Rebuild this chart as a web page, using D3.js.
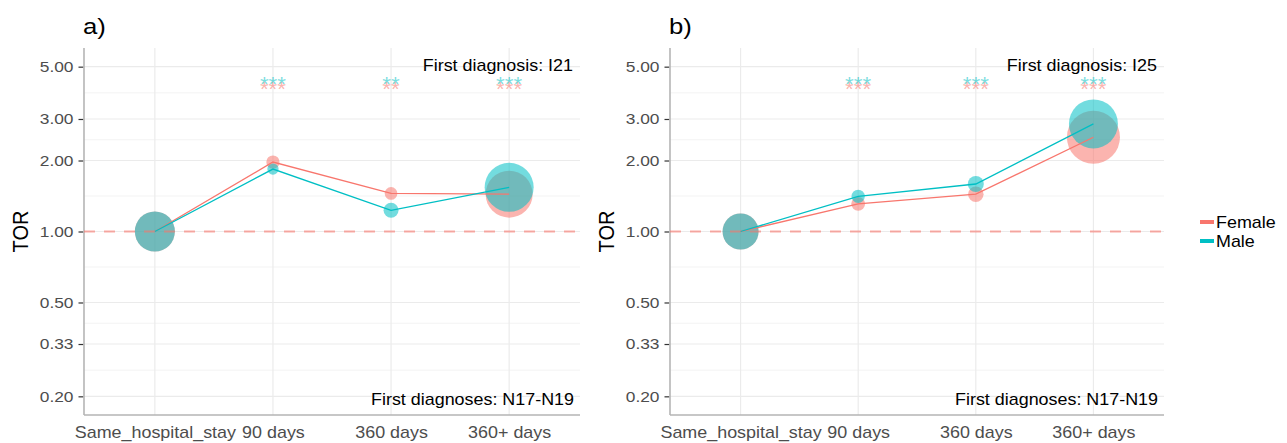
<!DOCTYPE html>
<html><head><meta charset="utf-8">
<script src="https://cdn.jsdelivr.net/npm/d3@7"></script>
<style>
body{margin:0;background:#fff}
text{font-family:"Liberation Sans",Arial,Helvetica,sans-serif}
</style>
</head><body>
<svg id="chart" width="1287" height="443"></svg>
<script>
// ---------- data ----------
const categories = ["Same_hospital_stay", "90 days", "360 days", "360+ days"];
const yTickValues = [0.2, 1/3, 0.5, 1, 2, 3, 5];
const yTickLabels = ["0.20", "0.33", "0.50", "1.00", "2.00", "3.00", "5.00"];
const seriesNames = ["Female", "Male"];
const seriesColors = ["#F8766D", "#00BFC4"];

const panelTags = ["a)", "b)"];
const panelTopNotes = ["First diagnosis: I21", "First diagnosis: I25"];
const panelBottomNotes = ["First diagnoses: N17-N19", "First diagnoses: N17-N19"];

// panel a (I21)
const aFemale = [1.00, 1.97, 1.45, 1.44];
const aMale = [1.00, 1.84, 1.23, 1.54];
const aFemaleSize = [1.00, 0.11, 0.10, 1.38];
const aMaleSize = [1.00, 0.08, 0.14, 1.50];
const aFemaleStars = ["", "***", "**", "***"];
const aMaleStars = ["", "***", "**", "***"];

// panel b (I25)
const bFemale = [1.00, 1.31, 1.44, 2.51];
const bMale = [1.00, 1.41, 1.59, 2.86];
const bFemaleSize = [0.81, 0.12, 0.15, 1.76];
const bMaleSize = [0.81, 0.11, 0.16, 1.50];
const bFemaleStars = ["", "***", "***", "***"];
const bMaleStars = ["", "***", "***", "***"];

const panelValues = [[aFemale, aMale], [bFemale, bMale]];
const panelSizes = [[aFemaleSize, aMaleSize], [bFemaleSize, bMaleSize]];
const panelStars = [[aFemaleStars, aMaleStars], [bFemaleStars, bMaleStars]];

// ---------- layout ----------
const SX = 1.12; // horizontal text stretch
const svg = d3.select("#chart");
const plotTop = 48, plotBottom = 415;
const panelX = [[84, 580], [670, 1164]];

const y = d3.scaleLog().domain([1/6, 6]).range([plotBottom, plotTop]);
const rScale = d3.scaleSqrt().domain([0, 1]).range([0, 20]);

function txt(g, x, yy, s, o = {}) {
  const t = g.append("text")
    .attr("transform", `translate(${x},${yy}) scale(${SX},1)` + (o.rotate ? ` rotate(${o.rotate})` : ""))
    .attr("text-anchor", o.anchor || "start")
    .attr("font-size", o.size || 16)
    .attr("fill", o.fill || "#000")
    .text(s);
  if (o.opacity != null) t.attr("fill-opacity", o.opacity);
  return t;
}

// minor breaks: midpoints in log space
const minorBreaks = [];
for (let i = 0; i < yTickValues.length - 1; i++) {
  minorBreaks.push(Math.sqrt(yTickValues[i] * yTickValues[i + 1]));
}

panelX.forEach(([L, R], p) => {
  const g = svg.append("g");
  const x = d3.scalePoint().domain(categories).range([L, R]).padding(0.6);

  // grid
  g.selectAll(".minor").data(minorBreaks).join("line")
    .attr("x1", L).attr("x2", R).attr("y1", d => y(d)).attr("y2", d => y(d))
    .attr("stroke", "#F3F3F3").attr("stroke-width", 1);
  g.selectAll(".major").data(yTickValues).join("line")
    .attr("x1", L).attr("x2", R).attr("y1", d => y(d)).attr("y2", d => y(d))
    .attr("stroke", "#EBEBEB").attr("stroke-width", 1.2);
  g.selectAll(".vgrid").data(categories).join("line")
    .attr("x1", d => x(d)).attr("x2", d => x(d)).attr("y1", plotTop).attr("y2", plotBottom)
    .attr("stroke", "#EBEBEB").attr("stroke-width", 1.2);

  // y axis
  const yAxis = d3.axisLeft(y).tickValues(yTickValues)
    .tickFormat((d, i) => yTickLabels[i]).tickSize(5).tickPadding(5);
  const ya = g.append("g").attr("transform", `translate(${L - 0.5},0)`).call(yAxis);
  ya.select(".domain").remove();
  ya.selectAll(".tick line").attr("stroke", "#333").attr("stroke-width", 1.2);
  ya.selectAll(".tick text").attr("font-size", 15.5).attr("fill", "#4D4D4D")
    .attr("font-family", "Liberation Sans, Arial, sans-serif")
    .attr("transform", `scale(${SX},1)`).attr("x", -10 / SX);

  // x axis
  const xAxis = d3.axisBottom(x).tickSize(0).tickPadding(12);
  const xa = g.append("g").attr("transform", `translate(0,${plotBottom})`).call(xAxis);
  xa.select(".domain").remove();
  xa.selectAll(".tick text").attr("font-size", 16).attr("fill", "#4D4D4D")
    .attr("font-family", "Liberation Sans, Arial, sans-serif")
    .attr("transform", `scale(${SX},1)`)
    .attr("x", 0);

  // axis lines
  g.append("line").attr("x1", L).attr("x2", L).attr("y1", plotTop).attr("y2", plotBottom)
    .attr("stroke", "#B5B5B5").attr("stroke-width", 1.6);
  g.append("line").attr("x1", L).attr("x2", R).attr("y1", plotBottom).attr("y2", plotBottom)
    .attr("stroke", "#B5B5B5").attr("stroke-width", 1.6);

  // points
  seriesNames.forEach((s, si) => {
    const vals = panelValues[p][si], sizes = panelSizes[p][si];
    g.selectAll(".pt" + si).data(categories).join("circle")
      .attr("cx", d => x(d)).attr("cy", (d, i) => y(vals[i]))
      .attr("r", (d, i) => rScale(sizes[i]))
      .attr("fill", seriesColors[si]).attr("fill-opacity", 0.55);
  });

  // reference dashed line
  g.append("line").attr("x1", L).attr("x2", R).attr("y1", y(1)).attr("y2", y(1))
    .attr("stroke", "#F8766D").attr("stroke-opacity", 0.6)
    .attr("stroke-width", 1.8).attr("stroke-dasharray", "11,9");

  // lines
  seriesNames.forEach((s, si) => {
    const vals = panelValues[p][si];
    const line = d3.line().x(d => x(d)).y((d, i) => y(vals[i]));
    g.append("path").datum(categories).attr("d", line)
      .attr("fill", "none").attr("stroke", seriesColors[si]).attr("stroke-width", 1.3);
  });

  // significance stars
  const starBase = y(4.25);
  seriesNames.forEach((s, si) => {
    const st = panelStars[p][si];
    categories.forEach((c, i) => {
      if (!st[i]) return;
      txt(g, x(c), starBase + (si === 1 ? 8 : 13), st[i],
        {anchor: "middle", size: 20, fill: seriesColors[si], opacity: 0.55});
    });
  });

  // annotations
  txt(g, R - 7, 71, panelTopNotes[p], {anchor: "end", size: 16});
  txt(g, R - 6, 405, panelBottomNotes[p], {anchor: "end", size: 16});
  txt(g, L - 1, 34, panelTags[p], {size: 23});
  txt(g, L - 56, (plotTop + plotBottom) / 2, "TOR", {anchor: "middle", size: 20, rotate: -90});
});

// legend
const leg = svg.append("g");
seriesNames.forEach((s, i) => {
  const ly = 222 + i * 19;
  leg.append("line").attr("x1", 1200).attr("x2", 1214).attr("y1", ly).attr("y2", ly)
    .attr("stroke", seriesColors[i]).attr("stroke-width", 4);
  txt(leg, 1216, ly + 6, s, {size: 16});
});
</script>
</body></html>
